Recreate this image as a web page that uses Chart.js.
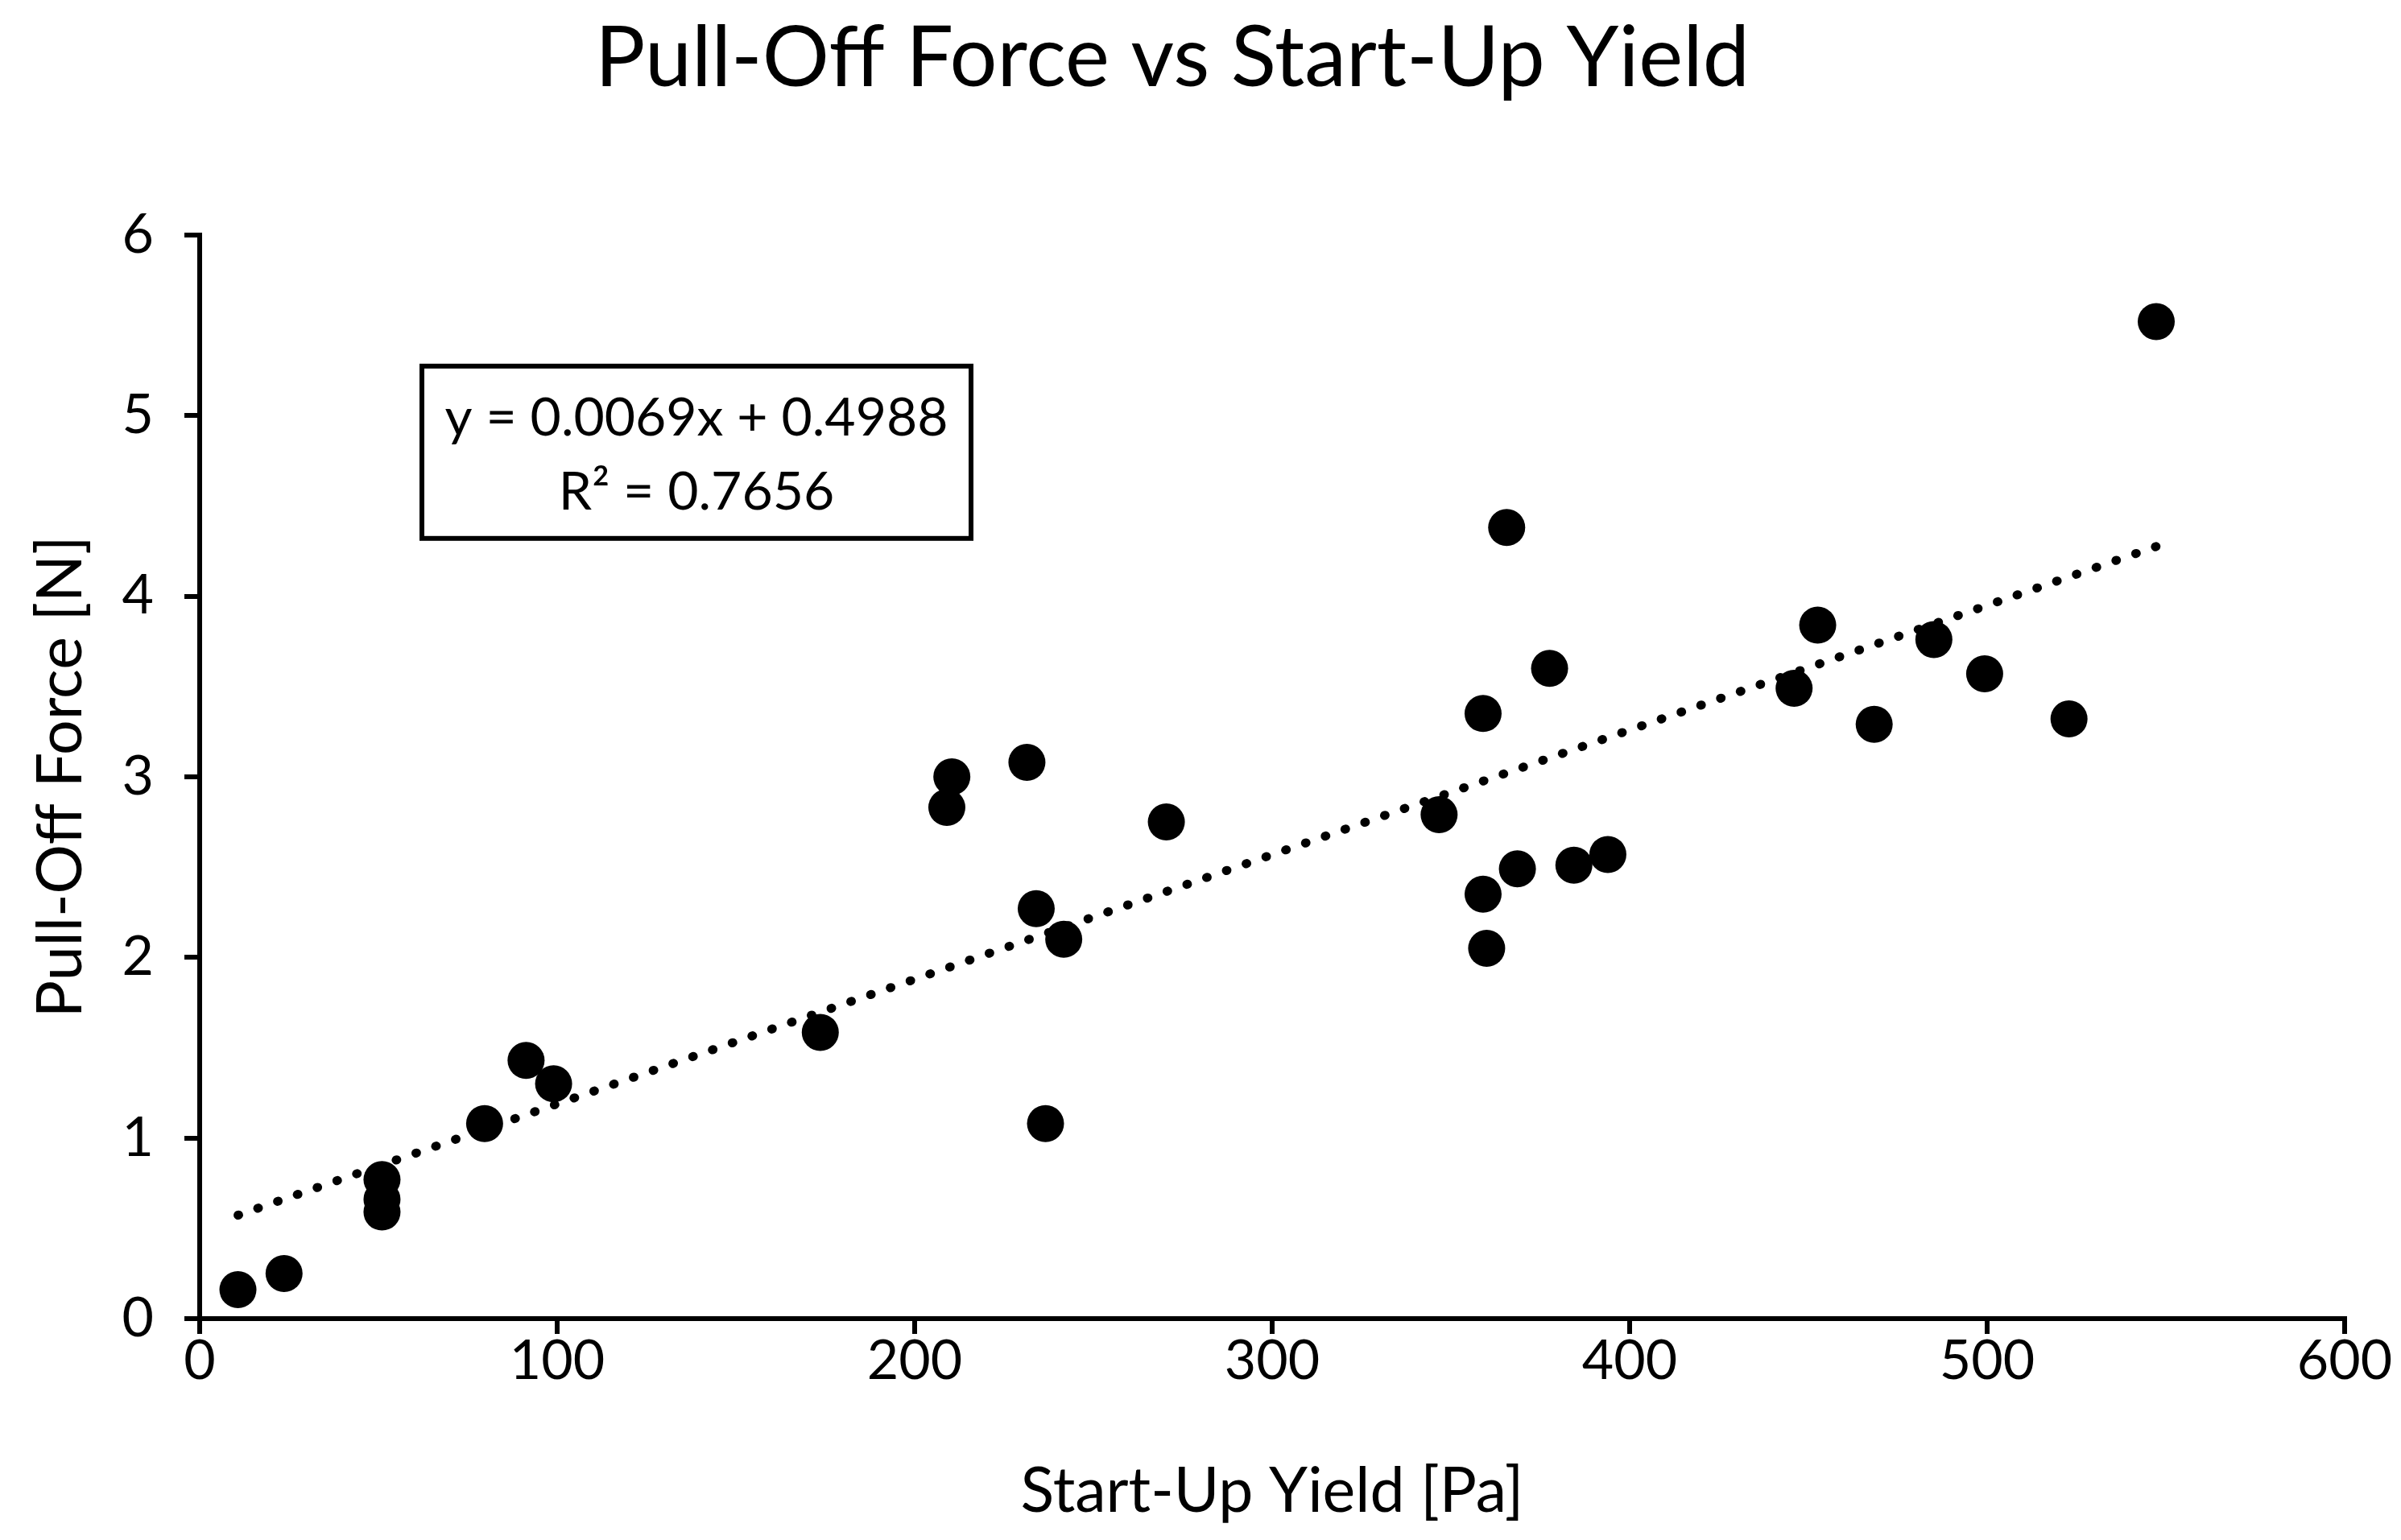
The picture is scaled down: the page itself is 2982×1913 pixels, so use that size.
<!DOCTYPE html>
<html>
<head>
<meta charset="utf-8">
<title>Pull-Off Force vs Start-Up Yield</title>
<script src="https://cdn.jsdelivr.net/npm/chart.js@4"></script>
<style>
    html, body { margin: 0; padding: 0; background: #fff; }
    canvas { display: block; }
</style>
</head>
<body>
<canvas id="grafico" width="2982" height="1913"></canvas>
<script>
// Datos
const startUpYield = [10.7, 23.6, 51, 51, 51, 79.7, 91.3, 99, 173.6, 209, 210.4, 231.4, 234, 236.6, 241.7,
    270.4, 346.7, 359, 359, 360, 365.6, 368.6, 377.6, 384.4, 393.9, 446, 452.6, 468.4, 485.1, 499.3, 522.9, 547.3];
const pullOffForce = [0.16, 0.25, 0.77, 0.66, 0.59, 1.08, 1.43, 1.30, 1.585, 2.83, 3.0, 3.08, 2.27, 1.08, 2.10,
    2.75, 2.79, 3.35, 2.35, 2.05, 4.38, 2.49, 3.60, 2.51, 2.57, 3.49, 3.84, 3.29, 3.76, 3.57, 3.32, 5.52];

// Línea de tendencia (coeficientes impresos en el gráfico)
const pendiente = 0.0069;
const intercepto = 0.4988;
const textoEcuacion = ['y = 0.0069x + 0.4988', 'R\u00B2 = 0.7656'];

const xTicks = [0, 100, 200, 300, 400, 500, 600];
const yTicks = [0, 1, 2, 3, 4, 5, 6];

const FUENTE = 'Lato, "Open Sans", sans-serif';

const puntos = startUpYield.map((x, i) => ({ x: x, y: pullOffForce[i] }));
const xMin = Math.min(...startUpYield);
const xMax = Math.max(...startUpYield);
const tendencia = [
    { x: xMin, y: pendiente * xMin + intercepto },
    { x: xMax, y: pendiente * xMax + intercepto }
];

// Caja con la ecuación de la tendencia
const cajaEcuacion = {
    id: 'cajaEcuacion',
    afterDraw(chart) {
        const ctx = chart.ctx;
        const area = chart.chartArea;
        const x = area.left + 276, y = area.top + 163, w = 682, h = 214;
        ctx.save();
        ctx.fillStyle = '#fff';
        ctx.fillRect(x, y, w, h);
        ctx.lineWidth = 6;
        ctx.strokeStyle = '#000';
        ctx.strokeRect(x, y, w, h);
        ctx.fillStyle = '#000';
        ctx.font = '66px ' + FUENTE;
        ctx.textAlign = 'center';
        ctx.textBaseline = 'middle';
        ctx.fillText(textoEcuacion[0], x + w / 2, y + 65);
        ctx.fillText(textoEcuacion[1], x + w / 2, y + 157);
        ctx.restore();
    }
};

const ctx = document.getElementById('grafico').getContext('2d');
new Chart(ctx, {
    type: 'scatter',
    data: {
        datasets: [{
            label: 'Datos',
            data: puntos,
            backgroundColor: '#000',
            borderWidth: 0,
            pointRadius: 23,
            pointHoverRadius: 23
        }, {
            type: 'line',
            label: 'Tendencia',
            data: tendencia,
            borderColor: '#000',
            borderWidth: 11,
            borderDash: [1, 25],
            borderCapStyle: 'round',
            pointRadius: 0,
            fill: false
        }]
    },
    options: {
        responsive: false,
        devicePixelRatio: 1,
        animation: false,
        layout: { padding: { left: 0, right: 70, top: 0, bottom: 0 } },
        plugins: {
            legend: { display: false },
            tooltip: { enabled: false },
            title: {
                display: true,
                text: 'Pull-Off Force vs Start-Up Yield',
                color: '#000',
                font: { family: FUENTE, size: 104, weight: 'normal', lineHeight: 1.2 },
                padding: { top: 11, bottom: 156 }
            }
        },
        scales: {
            x: {
                type: 'linear',
                min: 0,
                max: 600,
                afterBuildTicks: s => { s.ticks = xTicks.map(v => ({ value: v })); },
                afterFit: s => { s.height = 275; },
                border: { display: true, color: '#000', width: 6 },
                grid: { drawOnChartArea: false, drawTicks: true, tickLength: 19, color: '#000', lineWidth: 6 },
                ticks: { color: '#000', padding: 0, font: { family: FUENTE, size: 68, lineHeight: 1 } },
                title: {
                    display: true,
                    text: 'Start-Up Yield [Pa]',
                    color: '#000',
                    font: { family: FUENTE, size: 77, lineHeight: 1.2 },
                    padding: { top: 0, bottom: 14 }
                }
            },
            y: {
                type: 'linear',
                min: 0,
                max: 6,
                afterBuildTicks: s => { s.ticks = yTicks.map(v => ({ value: v })); },
                afterFit: s => { s.width = 248; },
                border: { display: true, color: '#000', width: 6 },
                grid: { drawOnChartArea: false, drawTicks: true, tickLength: 19, color: '#000', lineWidth: 6 },
                ticks: { color: '#000', padding: 38, font: { family: FUENTE, size: 68, lineHeight: 1 } },
                title: {
                    display: true,
                    text: 'Pull-Off Force [N]',
                    color: '#000',
                    font: { family: FUENTE, size: 77, lineHeight: 1.2 },
                    padding: { top: 30, bottom: 0 }
                }
            }
        }
    },
    plugins: [cajaEcuacion]
});
</script>
</body>
</html>
